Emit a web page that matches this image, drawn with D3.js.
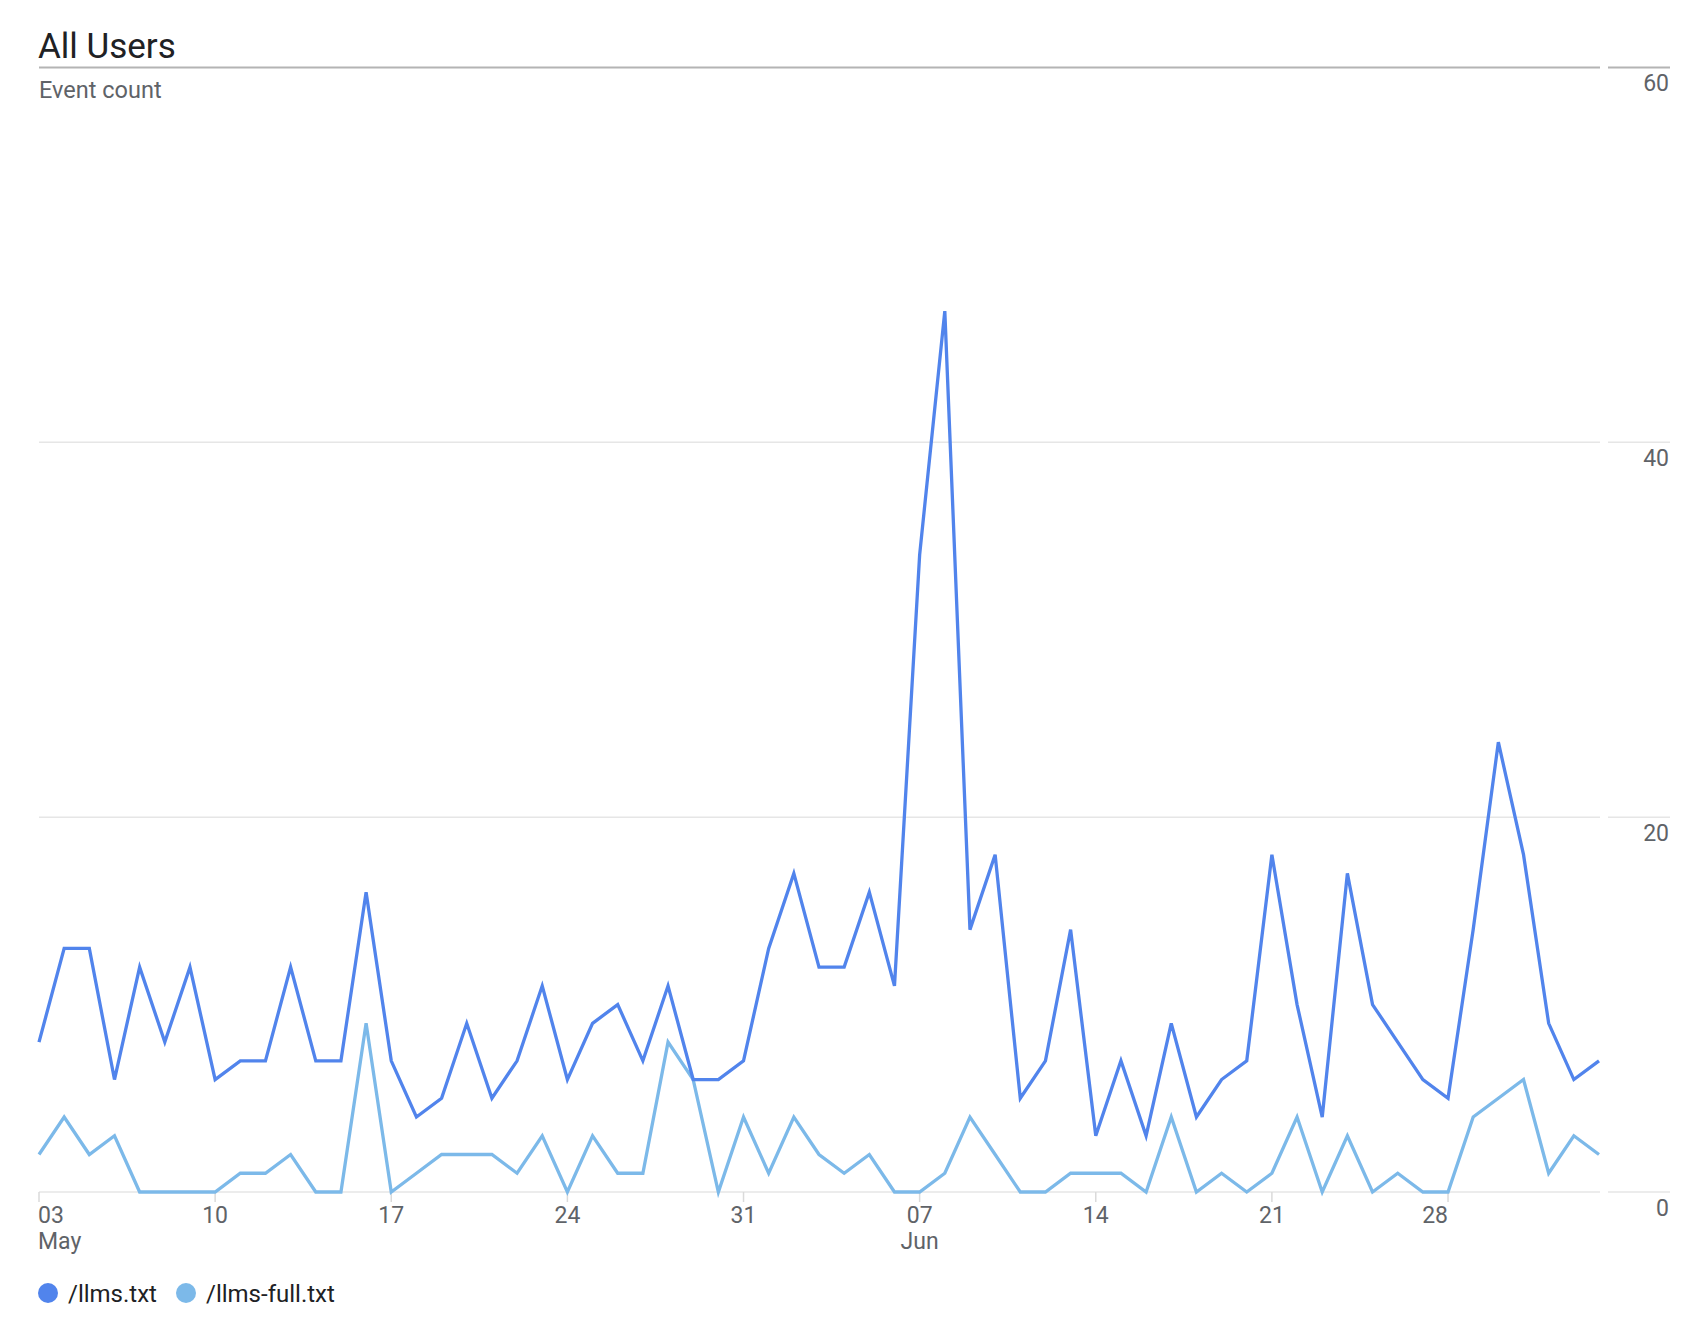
<!DOCTYPE html>
<html>
<head>
<meta charset="utf-8">
<script src="https://cdn.jsdelivr.net/npm/d3@7"></script>
<style>
  body { margin: 0; background: #fff; }
  text { font-family: Roboto, "Noto Sans", sans-serif; }
</style>
</head>
<body>
<div id="container"></div>
<script>
// daily event counts, 03 May -> 04 Jul
const startDate = new Date(2025, 4, 3);
const llms = [8, 13, 13, 6, 12, 8, 12, 6, 7, 7, 12, 7, 7, 16, 7, 4, 5, 9, 5, 7, 11, 6, 9, 10, 7, 11, 6, 6, 7, 13,
  17, 12, 12, 16, 11, 34, 47, 14, 18, 5, 7, 14, 3, 7, 3, 9, 4, 6, 7, 18, 10, 4, 17, 10, 8, 6, 5, 14, 24, 18, 9, 6, 7];
const llmsFull = [2, 4, 2, 3, 0, 0, 0, 0, 1, 1, 2, 0, 0, 9, 0, 1, 2, 2, 2, 1, 3, 0, 3, 1, 1, 8, 6, 0, 4, 1,
  4, 2, 1, 2, 0, 0, 1, 4, 2, 0, 0, 1, 1, 1, 0, 4, 0, 1, 0, 1, 4, 0, 3, 0, 1, 0, 0, 4, 5, 6, 1, 3, 2];
const seriesNames = ["/llms.txt", "/llms-full.txt"];
const colors = ["#5184ec", "#7cb9e9"];
const yTicks = [0, 20, 40, 60];
const tickDays = ["2025-05-03", "2025-05-10", "2025-05-17", "2025-05-24", "2025-05-31",
  "2025-06-07", "2025-06-14", "2025-06-21", "2025-06-28"];
const monthLabels = { "2025-05-03": "May", "2025-06-07": "Jun" };

const width = 1708;
const height = 1338;

const dates = d3.timeDay.range(startDate, d3.timeDay.offset(startDate, llms.length));
const parse = d3.timeParse("%Y-%m-%d");

const svg = d3.select("#container")
  .append("svg")
  .attr("width", width)
  .attr("height", height);

const x = d3.scaleTime()
  .domain([dates[0], dates[dates.length - 1]])
  .range([39, 1599]);

const y = d3.scaleLinear()
  .domain([0, 60])
  .range([1192, 67.5]);

// title + subtitle
svg.append("text")
  .attr("x", 38)
  .attr("y", 58)
  .attr("font-size", 35)
  .attr("fill", "#202124")
  .text("All Users");

svg.append("text")
  .attr("x", 39)
  .attr("y", 97.5)
  .attr("font-size", 23.5)
  .attr("fill", "#5f6368")
  .text("Event count");

// gridlines (left part over plot, short part over the right labels)
yTicks.forEach(t => {
  const top = t === 60;
  [[39, 1600], [1608, 1670]].forEach(([a, b]) => {
    svg.append("line")
      .attr("x1", a).attr("x2", b)
      .attr("y1", y(t)).attr("y2", y(t))
      .attr("stroke", top ? "#b4b4b4" : "#e6e6e6")
      .attr("stroke-width", top ? 2 : 1.5);
  });
  svg.append("text")
    .attr("x", 1669)
    .attr("y", y(t) + 23.5)
    .attr("text-anchor", "end")
    .attr("font-size", 23)
    .attr("fill", "#5f6368")
    .text(t);
});

// x axis ticks + labels
const xAxis = svg.append("g");
tickDays.forEach((s, i) => {
  const d = parse(s);
  const px = x(d);
  xAxis.append("line")
    .attr("x1", px).attr("x2", px)
    .attr("y1", 1192).attr("y2", 1202)
    .attr("stroke", "#dadada")
    .attr("stroke-width", 1.5);
  let anchor = "middle";
  if (i === 0) anchor = "start";
  if (i === tickDays.length - 1) anchor = "end";
  xAxis.append("text")
    .attr("x", i === 0 ? px - 1 : px)
    .attr("y", 1223)
    .attr("text-anchor", anchor)
    .attr("font-size", 23)
    .attr("fill", "#5f6368")
    .text(d3.timeFormat("%d")(d));
  if (monthLabels[s]) {
    xAxis.append("text")
      .attr("x", i === 0 ? px - 1 : px)
      .attr("y", 1249)
      .attr("text-anchor", anchor)
      .attr("font-size", 23)
      .attr("fill", "#5f6368")
      .text(monthLabels[s]);
  }
});

// lines
const line = d3.line()
  .x((d, i) => x(dates[i]))
  .y(d => y(d));

[llmsFull, llms].forEach((vals, k) => {
  svg.append("path")
    .datum(vals)
    .attr("fill", "none")
    .attr("stroke", k === 0 ? colors[1] : colors[0])
    .attr("stroke-width", 3.3)
    .attr("stroke-linejoin", "miter")
    .attr("d", line);
});

// legend
const legendX = [48, 186];
seriesNames.forEach((name, i) => {
  svg.append("circle")
    .attr("cx", legendX[i])
    .attr("cy", 1293)
    .attr("r", 10)
    .attr("fill", colors[i]);
  svg.append("text")
    .attr("x", legendX[i] + 20)
    .attr("y", 1301.5)
    .attr("font-size", 24)
    .attr("fill", "#202124")
    .text(name);
});
</script>
</body>
</html>
